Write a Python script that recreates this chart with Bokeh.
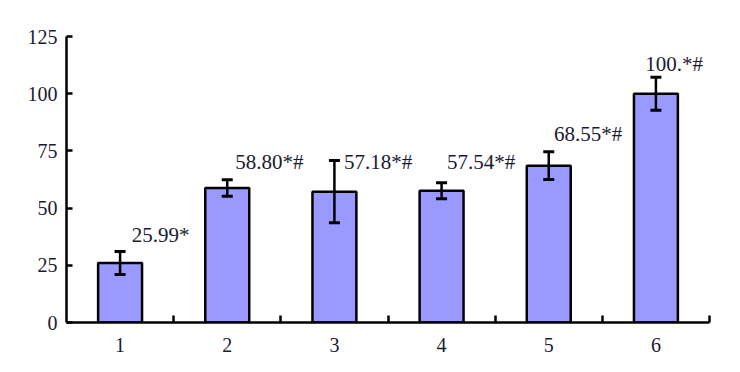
from bokeh.plotting import figure
from bokeh.models import ColumnDataSource, FixedTicker, Whisker, LabelSet
from bokeh.embed import file_html
from bokeh.resources import INLINE

# data
groups = [1, 2, 3, 4, 5, 6]
values = [25.99, 58.80, 57.18, 57.54, 68.55, 100.0]
errors = [5.0, 3.6, 13.6, 3.5, 6.1, 7.2]
labels = ["25.99*", "58.80*#", "57.18*#", "57.54*#", "68.55*#", "100.*#"]
y_ticks = [0, 25, 50, 75, 100, 125]

# label anchors (layout)
label_dx = [0.11, 0.075, 0.09, 0.05, 0.05, -0.10]
label_y = [38.4, 70.3, 70.3, 70.3, 82.5, 113.0]

FONT = "'Liberation Serif', 'Times New Roman', serif"
TXT = "#1a1a33"

src = ColumnDataSource(dict(
    x=groups, top=values,
    upper=[v + e for v, e in zip(values, errors)],
    lower=[v - e for v, e in zip(values, errors)],
))
lab_src = ColumnDataSource(dict(
    x=[g + d for g, d in zip(groups, label_dx)], y=label_y, text=labels,
))

p = figure(width=724, height=356, output_backend="svg", toolbar_location=None,
           x_range=(0.5, 6.5), y_range=(0, 125),
           min_border_left=66, min_border_right=15, min_border_top=36, min_border_bottom=34)
p.outline_line_color = None
p.grid.visible = False
p.background_fill_color = "white"

p.vbar(x="x", top="top", width=0.41, source=src, fill_color="#9999FF",
       line_color="black", line_width=2.5)

w = Whisker(source=src, base="x", upper="upper", lower="lower",
            line_color="black", line_width=2.5, level="overlay")
w.upper_head.size = 11
w.lower_head.size = 11
w.upper_head.line_width = 3
w.lower_head.line_width = 3
p.add_layout(w)

p.add_layout(LabelSet(x="x", y="y", text="text", source=lab_src,
                      text_font=FONT, text_font_size="21px", text_color=TXT,
                      text_baseline="middle", text_align="left"))

p.xaxis.ticker = FixedTicker(ticks=groups, minor_ticks=[1.5, 2.5, 3.5, 4.5, 5.5, 6.5])
p.xaxis.major_tick_line_color = None
p.xaxis.minor_tick_in = 7
p.xaxis.minor_tick_out = 0
p.xaxis.minor_tick_line_color = "black"
p.xaxis.minor_tick_line_width = 2.5
p.yaxis.ticker = FixedTicker(ticks=y_ticks, minor_ticks=[])
p.yaxis.major_tick_in = 6
p.yaxis.major_tick_out = 0
p.yaxis.major_tick_line_width = 2.5
p.yaxis.minor_tick_line_color = None
for ax in (p.xaxis, p.yaxis):
    ax.axis_line_width = 2.5
    ax.axis_line_color = "black"
    ax.major_label_text_font = FONT
    ax.major_label_text_font_size = "20px"
    ax.major_label_text_color = TXT
    ax.major_label_standoff = 9

open("out.html", "w").write(file_html(p, INLINE))
